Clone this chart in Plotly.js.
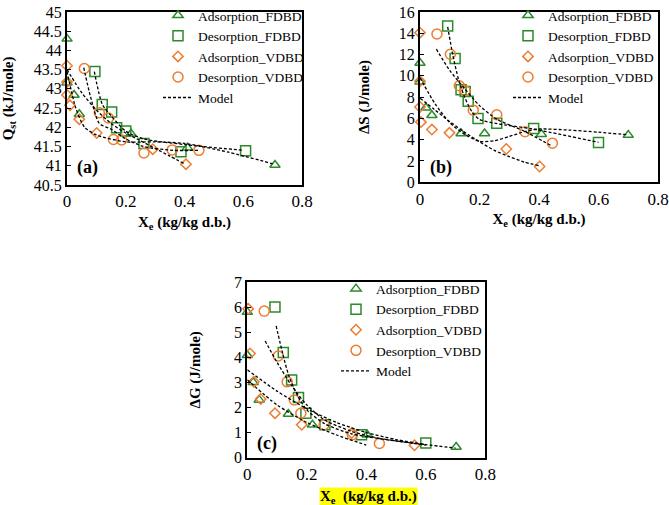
<!DOCTYPE html>
<html><head><meta charset="utf-8">
<script src="https://cdn.plot.ly/plotly-3.0.1.min.js"></script>
<style>html,body{margin:0;padding:0;background:#fff;}#chart{width:669px;height:505px;}</style>
</head><body><div id="chart"></div>
<script>
// ---------- series names ----------
const seriesNames = ['Adsorption_FDBD','Desorption_FDBD','Adsorption_VDBD','Desorption_VDBD'];
const modelName = 'Model';

// ---------- (a) Qst (kJ/mole) ----------
const aAdsFX = [0, 0, 0.024, 0.042, 0.218, 0.41, 0.708];
const aAdsFY = [44.3, 43.16, 42.84, 42.34, 41.83, 41.47, 41.02];
const aDesFX = [0.095, 0.12, 0.152, 0.169, 0.2, 0.262, 0.388, 0.608];
const aDesFY = [43.45, 42.59, 42.4, 41.99, 41.9, 41.58, 41.36, 41.39];
const aAdsVX = [0, 0, 0, 0.01, 0.042, 0.101, 0.292, 0.405];
const aAdsVY = [43.6, 43.18, 42.84, 42.57, 42.21, 41.85, 41.43, 41.04];
const aDesVX = [0.059, 0.11, 0.141, 0.158, 0.186, 0.262, 0.358, 0.449];
const aDesVY = [43.53, 42.38, 42.24, 41.68, 41.67, 41.33, 41.41, 41.4];
// model curves (a)
const aMAdsFX = [0, 0.03, 0.06, 0.1, 0.2, 0.3, 0.4, 0.55, 0.7];
const aMAdsFY = [43.45, 42.5, 42.0, 41.8, 41.62, 41.62, 41.58, 41.35, 41.05];
const aMDesFX = [0.093, 0.12, 0.15, 0.2, 0.26, 0.4, 0.6];
const aMDesFY = [43.45, 42.6, 42.3, 41.9, 41.7, 41.55, 41.4];
const aMAdsVX = [0, 0.05, 0.1, 0.15, 0.2, 0.25, 0.3, 0.35, 0.4];
const aMAdsVY = [43.5, 42.9, 42.45, 42.1, 41.85, 41.65, 41.45, 41.25, 41.05];
const aMDesVX = [0.057, 0.08, 0.11, 0.15, 0.2, 0.26, 0.36, 0.45];
const aMDesVY = [43.55, 42.8, 42.1, 41.95, 41.7, 41.5, 41.4, 41.4];

// ---------- (b) ΔS (J/mole) ----------
const bAdsFX = [0, 0, 0.02, 0.04, 0.138, 0.217, 0.408, 0.70];
const bAdsFY = [11.2, 9.44, 7.0, 6.3, 4.58, 4.58, 4.52, 4.43];
const bDesFX = [0.093, 0.118, 0.138, 0.152, 0.162, 0.195, 0.258, 0.382, 0.6];
const bDesFY = [14.69, 11.62, 8.68, 8.53, 7.6, 6.0, 5.55, 5.04, 3.73];
const bAdsVX = [0, 0, 0, 0.003, 0.04, 0.099, 0.29, 0.402];
const bAdsVY = [14.05, 9.5, 7.07, 5.65, 4.95, 4.64, 3.12, 1.48];
const bDesVX = [0.057, 0.102, 0.132, 0.152, 0.179, 0.258, 0.353, 0.445];
const bDesVY = [13.93, 12.02, 9.07, 8.59, 6.77, 6.34, 4.74, 3.67];
// model curves (b)
const bMAdsFX = [0, 0.05, 0.1, 0.15, 0.2, 0.25, 0.3, 0.35, 0.4, 0.5, 0.6, 0.7];
const bMAdsFY = [9.8, 7.4, 5.6, 4.5, 3.85, 3.9, 4.3, 4.75, 5.0, 4.9, 4.7, 4.45];
const bMDesFX = [0.093, 0.11, 0.13, 0.15, 0.175, 0.2, 0.26, 0.38, 0.6];
const bMDesFY = [14.6, 12.0, 9.6, 8.0, 6.6, 5.9, 5.5, 5.0, 3.75];
const bMAdsVX = [0, 0.05, 0.1, 0.15, 0.2, 0.25, 0.3, 0.35, 0.4];
const bMAdsVY = [7.9, 6.8, 5.7, 4.7, 3.8, 3.0, 2.4, 1.9, 1.55];
const bMDesVX = [0.055, 0.1, 0.15, 0.2, 0.26, 0.35, 0.44];
const bMDesVY = [12.5, 10.5, 8.8, 7.2, 5.9, 4.8, 3.45];

// ---------- (c) ΔG (J/mole) ----------
const cAdsFX = [0, 0, 0.02, 0.04, 0.138, 0.219, 0.403, 0.702];
const cAdsFY = [5.8, 4.08, 3.0, 2.3, 1.74, 1.31, 0.91, 0.42];
const cDesFX = [0.093, 0.121, 0.149, 0.172, 0.197, 0.261, 0.384, 0.6];
const cDesFY = [6.0, 4.19, 3.09, 2.4, 1.77, 1.31, 0.91, 0.58];
const cAdsVX = [0.003, 0.009, 0.022, 0.045, 0.093, 0.183, 0.351, 0.562];
const cAdsVY = [5.93, 4.15, 3.02, 2.34, 1.77, 1.31, 0.98, 0.49];
const cDesVX = [0.057, 0.104, 0.134, 0.158, 0.18, 0.258, 0.353, 0.444];
const cDesVY = [5.84, 4.05, 3.02, 2.3, 1.77, 1.31, 0.91, 0.56];
// model curves (c)
const cMAdsFX = [0, 0.1, 0.2, 0.3, 0.4, 0.5, 0.6, 0.7];
const cMAdsFY = [3.5, 2.65, 1.95, 1.4, 1.0, 0.72, 0.52, 0.38];
const cMDesFX = [0.097, 0.12, 0.14, 0.17, 0.2, 0.26, 0.35, 0.45, 0.6];
const cMDesFY = [5.25, 4.1, 3.25, 2.45, 1.9, 1.35, 0.95, 0.75, 0.5];
const cMAdsVX = [0, 0.1, 0.2, 0.3, 0.4];
const cMAdsVY = [3.1, 2.1, 1.4, 0.9, 0.5];
const cMDesVX = [0.06, 0.1, 0.15, 0.2, 0.26, 0.35, 0.45, 0.6];
const cMDesVY = [4.65, 3.8, 2.85, 2.1, 1.5, 1.05, 0.75, 0.52];

// ---------- tick labels ----------
const xTickVals = [0, 0.2, 0.4, 0.6, 0.8];
const xTickText = ['0', '0.2', '0.4', '0.6', '0.8'];
const aTickVals = [40.5, 41, 41.5, 42, 42.5, 43, 43.5, 44, 44.5, 45];
const aTickText = ['40.5', '41', '41.5', '42', '42.5', '43', '43.5', '44', '44.5', '45'];
const bTickVals = [0, 2, 4, 6, 8, 10, 12, 14, 16];
const bTickText = ['0', '2', '4', '6', '8', '10', '12', '14', '16'];
const cTickVals = [0, 1, 2, 3, 4, 5, 6, 7];
const cTickText = ['0', '1', '2', '3', '4', '5', '6', '7'];

// ---------- styles ----------
const GREEN = '#2b8a2b', ORANGE = '#ED7D31';
const FONT = 'Liberation Serif, Times New Roman, serif';
const markerStyles = [
  {symbol: 'triangle-up-open', size: 9, color: GREEN, line: {width: 1.5, color: GREEN}},
  {symbol: 'square-open', size: 10, color: GREEN, line: {width: 1.5, color: GREEN}},
  {symbol: 'diamond-open', size: 8, color: ORANGE, line: {width: 1.5, color: ORANGE}},
  {symbol: 'circle-open', size: 10, color: ORANGE, line: {width: 1.5, color: ORANGE}}
];
const modelLine = {color: '#000', width: 1.3, dash: '3px,2px'};

function panel(xa, ya, leg, pts, models) {
  const tr = [];
  pts.forEach((p, i) => tr.push({
    type: 'scatter', mode: 'markers', x: p[0], y: p[1], name: seriesNames[i],
    xaxis: xa, yaxis: ya, legend: leg, marker: markerStyles[i], cliponaxis: false
  }));
  models.forEach((m, i) => tr.push({
    type: 'scatter', mode: 'lines', x: m[0], y: m[1], name: modelName,
    xaxis: xa, yaxis: ya, legend: leg, showlegend: i === 0,
    line: Object.assign({shape: 'spline', smoothing: 0.7}, modelLine)
  }));
  return tr;
}

const traces = [].concat(
  panel('x', 'y', 'legend',
    [[aAdsFX, aAdsFY], [aDesFX, aDesFY], [aAdsVX, aAdsVY], [aDesVX, aDesVY]],
    [[aMAdsFX, aMAdsFY], [aMDesFX, aMDesFY], [aMAdsVX, aMAdsVY], [aMDesVX, aMDesVY]]),
  panel('x2', 'y2', 'legend2',
    [[bAdsFX, bAdsFY], [bDesFX, bDesFY], [bAdsVX, bAdsVY], [bDesVX, bDesVY]],
    [[bMAdsFX, bMAdsFY], [bMDesFX, bMDesFY], [bMAdsVX, bMAdsVY], [bMDesVX, bMDesVY]]),
  panel('x3', 'y3', 'legend3',
    [[cAdsFX, cAdsFY], [cDesFX, cDesFY], [cAdsVX, cAdsVY], [cDesVX, cDesVY]],
    [[cMAdsFX, cMAdsFY], [cMDesFX, cMDesFY], [cMAdsVX, cMAdsVY], [cMDesVX, cMDesVY]])
);

const W = 669, H = 505;
function xAx(l, r, anchor, title) {
  const ax = {
    domain: [l / W, r / W], range: [0, 0.8], anchor: anchor,
    tickmode: 'array', tickvals: xTickVals, ticktext: xTickText,
    showgrid: false, zeroline: false, showline: true, mirror: true,
    linecolor: '#000', linewidth: 2, ticks: '', ticklabelstandoff: 0,
    ticklabeloverflow: 'allow',
    tickfont: {family: FONT, size: 17, color: '#000'}
  };
  if (title) ax.title = {text: title, font: {family: FONT, size: 15, color: '#000'}, standoff: 6};
  return ax;
}
function yAx(top, bot, anchor, range, tv, tt, title, standoff) {
  return {
    domain: [1 - bot / H, 1 - top / H], range: range, anchor: anchor,
    tickmode: 'array', tickvals: tv, ticktext: tt,
    showgrid: false, zeroline: false, showline: true, mirror: true,
    linecolor: '#000', linewidth: 2, ticks: 'inside', ticklen: 4, tickcolor: '#000', tickwidth: 1,
    ticklabeloverflow: 'allow',
    tickfont: {family: FONT, size: 16, color: '#000'},
    title: {text: title, font: {family: FONT, size: 15, color: '#000'}, standoff: standoff}
  };
}
function leg(xpx, ypx) {
  return {
    x: xpx / W, y: 1 - ypx / H, xanchor: 'left', yanchor: 'top',
    bgcolor: 'rgba(0,0,0,0)', borderwidth: 0, tracegroupgap: 0, itemwidth: 30,
    font: {family: FONT, size: 13.5, color: '#000'}
  };
}

const xTitle = '<b>X<sub>e</sub> (kg/kg d.b.)</b>';
const layout = {
  width: W, height: H, margin: {l: 0, r: 0, t: 0, b: 0},
  paper_bgcolor: '#fff', plot_bgcolor: '#fff', showlegend: true,
  font: {family: FONT, color: '#000'},
  xaxis: xAx(67, 302, 'y', xTitle),
  yaxis: yAx(9, 183, 'x', [40.5, 45], aTickVals, aTickText, '<b>Q<sub>st</sub> (kJ/mole)</b>', 18),
  xaxis2: xAx(420, 658, 'y2', xTitle),
  yaxis2: yAx(9, 180.3, 'x2', [0, 16], bTickVals, bTickText, '<b>ΔS (J/mole)</b>', 26),
  xaxis3: xAx(247.3, 485.3, 'y3', null),
  yaxis3: yAx(280.7, 457.3, 'x3', [0, 7], cTickVals, cTickText, '<b>ΔG (J/mole)</b>', 30),
  legend: leg(158, -3),
  legend2: leg(508, -3),
  legend3: leg(336, 272),
  annotations: [
    {xref: 'x domain', yref: 'y domain', x: 0.034, y: 0.10, xanchor: 'left', yanchor: 'middle',
     text: '<b>(a)</b>', showarrow: false, font: {family: FONT, size: 18, color: '#000'}},
    {xref: 'x2 domain', yref: 'y2 domain', x: 0.032, y: 0.087, xanchor: 'left', yanchor: 'middle',
     text: '<b>(b)</b>', showarrow: false, font: {family: FONT, size: 18, color: '#000'}},
    {xref: 'x3 domain', yref: 'y3 domain', x: 0.032, y: 0.079, xanchor: 'left', yanchor: 'middle',
     text: '<b>(c)</b>', showarrow: false, font: {family: FONT, size: 18, color: '#000'}},
    {xref: 'paper', yref: 'paper', x: 368.5 / W, y: 1 - 497 / H, xanchor: 'center', yanchor: 'middle',
     text: '<b>X<sub>e</sub>  (kg/kg d.b.)</b>', showarrow: false, bgcolor: '#FFFF00', borderpad: 0,
     font: {family: FONT, size: 15, color: '#000'}}
  ]
};

Plotly.newPlot('chart', traces, layout, {staticPlot: true, displayModeBar: false});
</script>
</body></html>
